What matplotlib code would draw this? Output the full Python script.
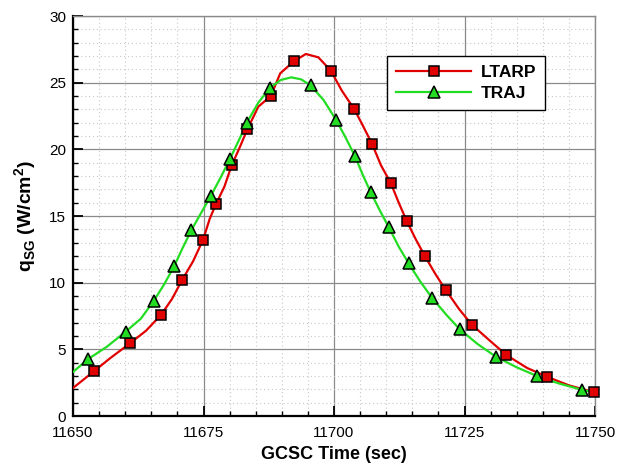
import matplotlib
matplotlib.use("Agg")
import matplotlib.pyplot as plt
from matplotlib.ticker import MultipleLocator

plt.rcParams['font.family'] = ['Liberation Sans', 'DejaVu Sans']
plt.rcParams['mathtext.fontset'] = 'custom'
plt.rcParams['mathtext.bf'] = 'Liberation Sans:bold'
plt.rcParams['mathtext.rm'] = 'Liberation Sans:bold'

# Heating-rate history, full curves
ltarp_t = [11650, 11654.0, 11657, 11660.9, 11664, 11666.9, 11669, 11670.9, 11673,
           11674.9, 11676.2, 11677.4, 11679, 11680.4, 11682, 11683.4, 11685.5,
           11687.9, 11689.7, 11692.3, 11694.6, 11697, 11699.4, 11701.5, 11703.9,
           11705.5, 11707.3, 11709, 11710.9, 11712.4, 11713.9, 11715.6, 11717.4,
           11719.5, 11721.4, 11724, 11726.4, 11730, 11733.0, 11737, 11740.9,
           11745, 11749.8]
ltarp_q = [2.1, 3.35, 4.3, 5.45, 6.4, 7.6, 8.8, 10.2, 11.6,
           13.2, 14.8, 15.9, 17.2, 18.8, 20.2, 21.5, 23.2,
           24.0, 25.7, 26.6, 27.15, 26.9, 25.9, 24.4, 23.0,
           21.8, 20.4, 18.8, 17.45, 16.0, 14.65, 13.3, 12.0,
           10.6, 9.45, 8.0, 6.85, 5.6, 4.58, 3.6, 2.93,
           2.3, 1.78]

traj_t = [11650, 11652.9, 11656.5, 11660.1, 11663, 11665.5, 11667.5, 11669.4, 11671,
          11672.7, 11674.5, 11676.4, 11678.3, 11680.1, 11681.8, 11683.3, 11685.5,
          11687.7, 11689.8, 11691.8, 11693.7, 11695.5, 11698, 11700.4, 11702.2,
          11704.0, 11705.5, 11707.0, 11708.8, 11710.5, 11712.4, 11714.3, 11716.5,
          11718.8, 11721.5, 11724.1, 11727.5, 11731.0, 11735, 11738.9, 11743,
          11747.6, 11750]
traj_q = [3.3, 4.27, 5.2, 6.33, 7.3, 8.65, 9.9, 11.25, 12.6,
          13.95, 15.2, 16.5, 17.9, 19.3, 20.7, 22.0, 23.5,
          24.6, 25.2, 25.4, 25.25, 24.8, 23.7, 22.2, 20.9,
          19.5, 18.1, 16.8, 15.4, 14.15, 12.7, 11.45, 10.1,
          8.85, 7.6, 6.5, 5.4, 4.45, 3.65, 3.0, 2.45,
          1.95, 1.75]

# Symbol locations
ltarp_mark_t = [11654.0, 11660.9, 11666.9, 11670.9, 11674.9, 11677.4, 11680.4,
                11683.4, 11687.9, 11692.3, 11699.4, 11703.9, 11707.3, 11710.9,
                11713.9, 11717.4, 11721.4, 11726.4, 11733.0, 11740.9, 11749.8]
ltarp_mark_q = [3.35, 5.45, 7.6, 10.2, 13.2, 15.9, 18.8,
                21.5, 24.0, 26.6, 25.9, 23.0, 20.4, 17.45,
                14.65, 12.0, 9.45, 6.85, 4.58, 2.93, 1.78]
traj_mark_t = [11652.9, 11660.1, 11665.5, 11669.4, 11672.7, 11676.4, 11680.1,
               11683.3, 11687.7, 11695.5, 11700.4, 11704.0, 11707.0, 11710.5,
               11714.3, 11718.8, 11724.1, 11731.0, 11738.9, 11747.6]
traj_mark_q = [4.27, 6.33, 8.65, 11.25, 13.95, 16.5, 19.3,
               22.0, 24.6, 24.8, 22.2, 19.5, 16.8, 14.15,
               11.45, 8.85, 6.5, 4.45, 3.0, 1.95]

red = '#e00000'
green = '#22dd22'
sq_size = 7
tri_size = 8.5

fig = plt.figure(figsize=(6.23, 4.66), dpi=100)
ax = fig.add_axes([73 / 623, 1 - 416 / 466, 522 / 623, 400 / 466])

ax.set_xlim(11650, 11750)
ax.set_ylim(0, 30)
ax.xaxis.set_major_locator(MultipleLocator(25))
ax.xaxis.set_minor_locator(MultipleLocator(5))
ax.yaxis.set_major_locator(MultipleLocator(5))
ax.yaxis.set_minor_locator(MultipleLocator(1))

ax.grid(which='major', color='#8a8a8a', linewidth=0.9, linestyle='-')
ax.grid(which='minor', color='#c8c8c8', linewidth=0.8, linestyle=(0, (1, 2.5)))
ax.set_axisbelow(True)

ax.tick_params(which='major', direction='in', length=7, width=1.3,
               labelsize=11, top=False, right=False)
ax.tick_params(which='minor', direction='in', length=3.5, width=1.0,
               top=False, right=False)
ax.tick_params(axis='x', which='major', pad=7.5)
ax.tick_params(axis='y', which='major', pad=5)

for side in ('left', 'bottom'):
    ax.spines[side].set_linewidth(1.6)
    ax.spines[side].set_color('black')
for side in ('top', 'right'):
    ax.spines[side].set_linewidth(1.0)
    ax.spines[side].set_color('#8a8a8a')

ax.plot(ltarp_t, ltarp_q, color=red, linewidth=1.6, zorder=3)
ax.plot(traj_t, traj_q, color=green, linewidth=1.6, zorder=3)
ax.plot(ltarp_mark_t, ltarp_mark_q, linestyle='none', marker='s', markersize=sq_size,
        markerfacecolor=red, markeredgecolor='black', markeredgewidth=1.1,
        zorder=4, clip_on=False)
ax.plot(traj_mark_t, traj_mark_q, linestyle='none', marker='^', markersize=tri_size,
        markerfacecolor=green, markeredgecolor='black', markeredgewidth=1.1,
        zorder=4, clip_on=False)

# Legend proxies
h1, = ax.plot([], [], color=red, linewidth=1.6, marker='s', markersize=sq_size,
              markerfacecolor=red, markeredgecolor='black', markeredgewidth=1.1)
h2, = ax.plot([], [], color=green, linewidth=1.6, marker='^', markersize=tri_size,
              markerfacecolor=green, markeredgecolor='black', markeredgewidth=1.1)
leg = ax.legend([h1, h2], ['LTARP', 'TRAJ'], loc='upper left',
                bbox_to_anchor=((386.7 - 73) / 522, (416 - 55.7) / 400),
                frameon=True, fancybox=False, shadow=False, framealpha=1,
                edgecolor='black', handlelength=4.3, handletextpad=0.55,
                borderpad=0.55, labelspacing=0.3, borderaxespad=0,
                prop={'weight': 'bold', 'size': 12.5})
leg.get_frame().set_linewidth(1.0)

ax.set_xlabel('GCSC Time (sec)', fontsize=13, fontweight='bold')
ax.xaxis.set_label_coords(0.5, -0.075)
ax.set_ylabel(r'$\mathbf{q}_{\mathbf{SG}}$ (W/cm$^{\mathbf{2}}$)', fontsize=14,
              fontweight='bold')
ax.yaxis.set_label_coords(-0.066, 0.5)

fig.savefig('out.png', dpi=100)
